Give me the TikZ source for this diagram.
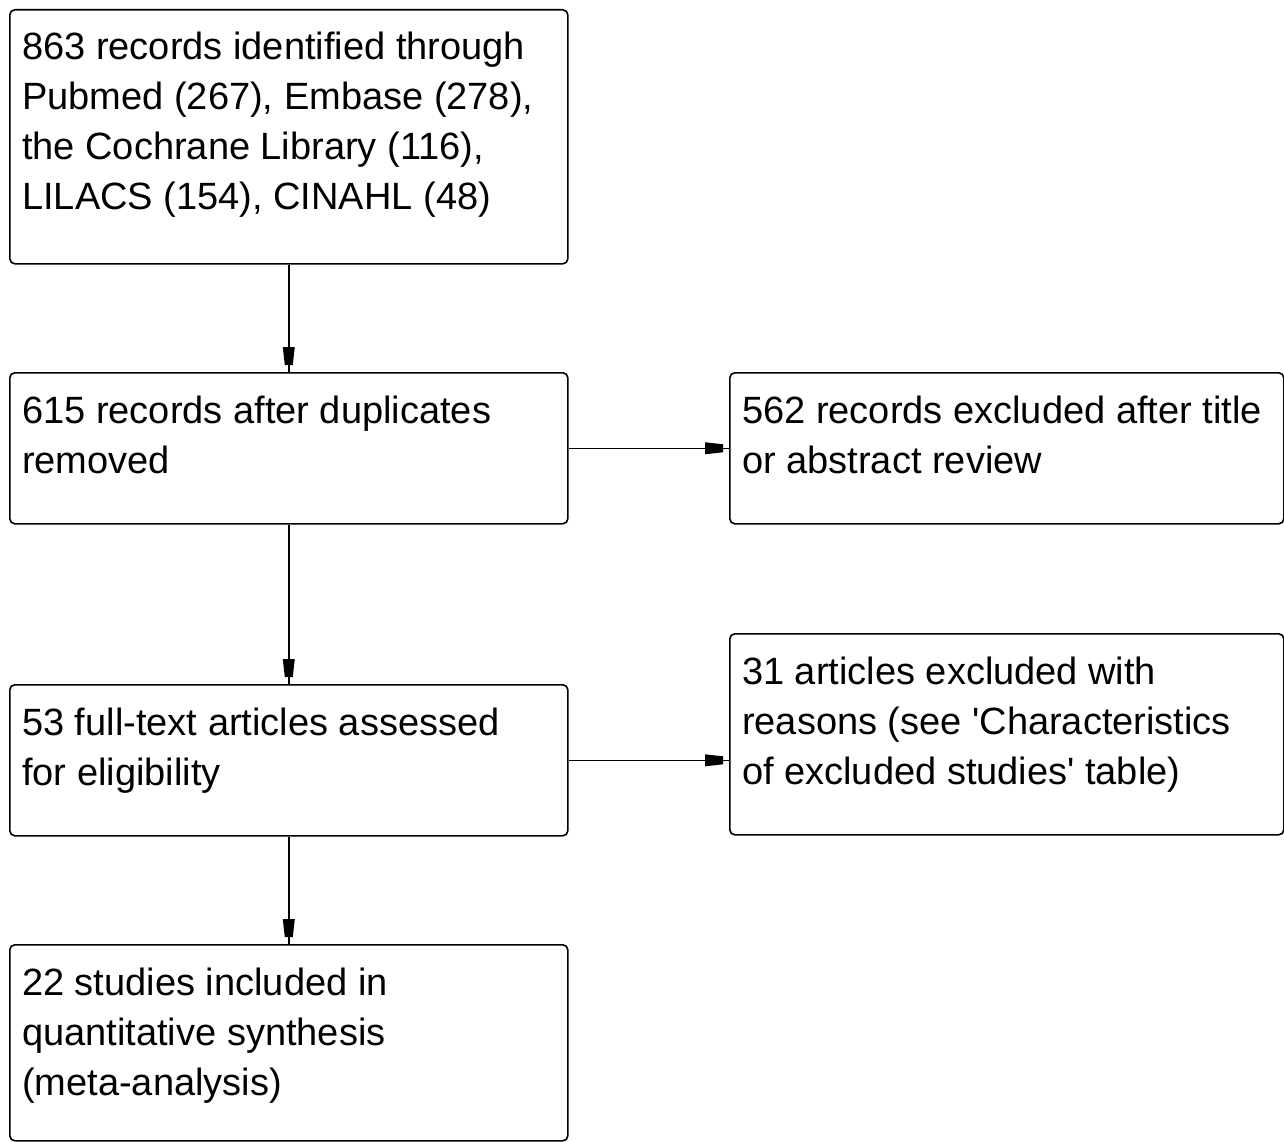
\documentclass[tikz,border=0pt]{standalone}
\usepackage{fontspec}
\setmainfont{Liberation Sans}
\begin{document}
\begin{tikzpicture}[x=1pt,y=-1pt,
  box/.style={draw=black, line width=1.6pt, rounded corners=5pt, anchor=north west, inner sep=0pt},
  txt/.style={anchor=base west, inner sep=0pt, font=\fontsize{38}{50}\selectfont},
  conn/.style={line width=1.6pt},
  vhead/.pic={\fill[black] (-6,-25) -- (6,-25) -- (4,-7) -- (-4,-7) -- cycle;},
  hhead/.pic={\fill[black] (-24,-6) -- (-24,6) -- (-6,4) -- (-6,-4) -- cycle;}]
\useasboundingbox[fill=white] (0,0) rectangle (1284,1142);
% left column
\node[box, minimum width=558pt, minimum height=254pt] (b1) at (9,9) {};
\node[box, minimum width=558pt, minimum height=151pt] (b2) at (9,372) {};
\node[box, minimum width=558pt, minimum height=151pt] (b3) at (9,684) {};
\node[box, minimum width=558pt, minimum height=196pt] (b4) at (9,944) {};
% right column
\node[box, minimum width=554pt, minimum height=151pt] (r1) at (729,372) {};
\node[box, minimum width=554pt, minimum height=201pt] (r2) at (729,633) {};
% texts
\node[txt] (t1) at (22,60) {\parbox[t]{540pt}{863 records identified through\\Pubmed (267), Embase (278),\\the Cochrane Library (116),\\LILACS (154), CINAHL (48)}};
\node[txt] (t2) at (22,423) {\parbox[t]{540pt}{615 records after duplicates\\removed}};
\node[txt] (t3) at (22,735) {\parbox[t]{540pt}{53 full-text articles assessed\\for eligibility}};
\node[txt] (t4) at (22,995) {\parbox[t]{540pt}{22 studies included in\\quantitative synthesis\\(meta-analysis)}};
\node[txt] (t5) at (742,423) {\parbox[t]{540pt}{562 records excluded after title\\or abstract review}};
\node[txt] (t6) at (742,684) {\parbox[t]{540pt}{31 articles excluded with\\reasons (see \textquotesingle Characteristics\\of excluded studies\textquotesingle\ table)}};
% connectors
\coordinate (r2in) at (b3.east -| r2.west);
\draw[conn] (b1.south) -- (b2.north);
\draw[conn] (b2.south) -- (b3.north);
\draw[conn] (b3.south) -- (b4.north);
\draw[conn] (b2.east) -- (r1.west);
\draw[conn] (b3.east) -- (r2in);
% arrowheads
\pic at (b2.north) {vhead};
\pic at (b3.north) {vhead};
\pic at (b4.north) {vhead};
\pic at (r1.west) {hhead};
\pic at (r2in) {hhead};
\end{tikzpicture}
\end{document}
